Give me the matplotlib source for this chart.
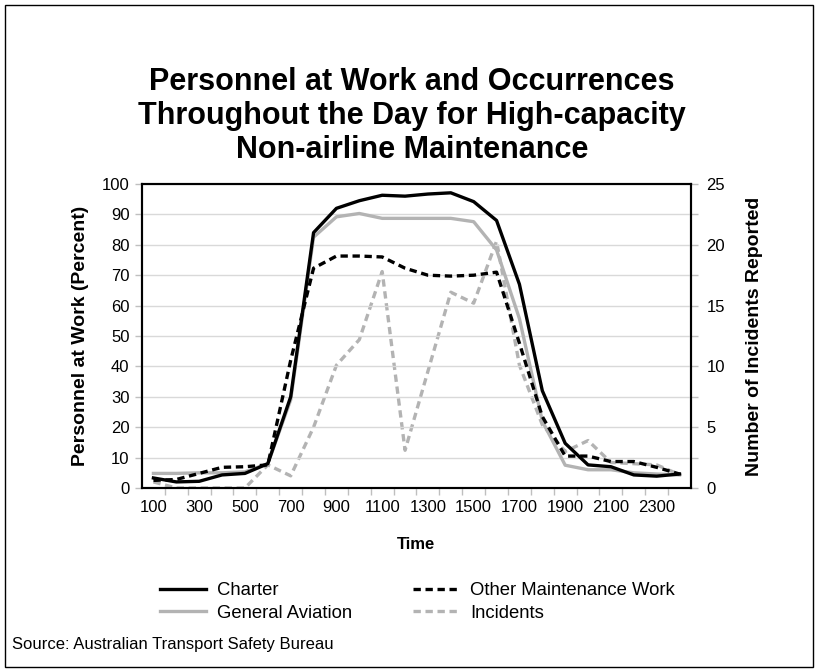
import matplotlib
matplotlib.use("Agg")
import matplotlib.pyplot as plt
from matplotlib.patches import Rectangle
from matplotlib.ticker import FixedLocator, NullFormatter

plt.rcParams['font.family'] = ['Liberation Sans', 'DejaVu Sans']

hours = [100, 200, 300, 400, 500, 600, 700, 800, 900, 1000, 1100, 1200,
         1300, 1400, 1500, 1600, 1700, 1800, 1900, 2000, 2100, 2200, 2300, 2400]
charter = [3.3, 2.0, 2.2, 4.3, 4.8, 8.0, 30.0, 84.0, 92.0, 94.5, 96.3, 96.0,
           96.7, 97.1, 94.2, 88.0, 67.0, 32.0, 14.7, 7.6, 7.0, 4.3, 3.9, 4.6]
general_aviation = [4.8, 4.8, 5.0, 5.0, 5.3, 8.0, 29.0, 82.5, 89.2, 90.3, 88.7, 88.7,
                    88.7, 88.7, 87.6, 78.3, 55.7, 22.0, 7.5, 6.0, 6.0, 5.0, 4.6, 4.3]
other_maint = [2.5, 2.8, 4.8, 6.8, 7.0, 7.6, 42.0, 72.3, 76.3, 76.3, 76.0, 72.3,
               70.0, 69.7, 70.0, 71.0, 47.6, 23.5, 10.5, 10.5, 8.7, 8.7, 6.8, 4.6]
incidents = [0.5, 0.0, 0.0, 0.0, 0.0, 1.9, 1.0, 5.0, 10.1, 12.2, 17.8, 3.1,
             9.6, 16.1, 15.2, 20.3, 10.1, 5.2, 3.0, 3.9, 2.1, 2.0, 1.9, 1.1]

title = "Personnel at Work and Occurrences\nThroughout the Day for High-capacity\nNon-airline Maintenance"

W, H = 819, 672
fig = plt.figure(figsize=(W / 100, H / 100), dpi=100)
fig.patch.set_facecolor('white')
fig.patches.append(Rectangle((5 / W, 1 - 667 / H), 808 / W, 662 / H,
                             transform=fig.transFigure, fill=False,
                             edgecolor='black', linewidth=1.0))

left, right, top, bottom = 142, 691, 184, 488
aw, ah = right - left, bottom - top
ax = fig.add_axes([left / W, 1 - bottom / H, aw / W, ah / H])
ax2 = ax.twinx()

pos = list(range(1, len(hours) + 1))
gray = '#b3b3b3'
lw = 2.4
dash = (2.2, 1.4)

l1, = ax.plot(pos, charter, color='black', lw=lw, label='Charter', zorder=4)
l2, = ax.plot(pos, general_aviation, color=gray, lw=lw, label='General Aviation', zorder=3)
l3, = ax.plot(pos, other_maint, color='black', lw=lw, ls=(0, dash), label='Other Maintenance Work', zorder=5)
l4, = ax2.plot(pos, incidents, color=gray, lw=lw, ls=(0, dash), label='Incidents', zorder=2)

ax.set_zorder(ax2.get_zorder() + 1)
ax.patch.set_visible(False)

ax.set_xlim(0.5, len(hours) + 0.5)
ax.set_ylim(0, 100)
ax2.set_ylim(0, 25)

ax.set_yticks(range(0, 101, 10))
ax.yaxis.grid(True, color='#d9d9d9', lw=1.0)
ax.set_axisbelow(True)
ax2.set_yticks(range(0, 26, 5))
ax2.yaxis.set_minor_locator(FixedLocator([2.5, 7.5, 12.5, 17.5, 22.5]))
ax2.tick_params(axis='y', which='minor', length=5, width=1, color='#bfbfbf')

# x ticks at category boundaries, labels every other category
ax.xaxis.set_major_locator(FixedLocator([p + 0.5 for p in pos[:-1]]))
ax.xaxis.set_major_formatter(NullFormatter())
ax.xaxis.set_minor_locator(FixedLocator(pos[::2]))
ax.set_xticklabels([str(h) for h in hours[::2]], minor=True)
ax.tick_params(axis='x', which='major', length=5, width=1, color='#bfbfbf')
ax.tick_params(axis='x', which='minor', length=0, pad=9, labelsize=12)

ax.tick_params(axis='y', length=5, width=1, color='#bfbfbf', labelsize=12, pad=4)
ax2.tick_params(axis='y', which='major', length=5, width=1, color='#bfbfbf', labelsize=12, pad=6)

for a in (ax, ax2):
    for s in a.spines.values():
        s.set_color('black')
        s.set_linewidth(1.5)

ax.set_xlabel('Time', fontsize=12, fontweight='bold')
ax.xaxis.set_label_coords(0.5, (bottom - 537) / ah)
ax.set_ylabel('Personnel at Work (Percent)', fontsize=14, fontweight='bold')
ax.yaxis.set_label_coords((89 - left) / aw, 0.5)
ax2.set_ylabel('Number of Incidents Reported', fontsize=14, fontweight='bold')
ax2.yaxis.set_label_coords((746 - left) / aw, 0.5)

fig.text(412 / W, 1 - 116 / H, title, ha='center', va='center', fontsize=22,
         fontweight='bold', linespacing=1.16)

leg = fig.legend(handles=[l1, l2, l3, l4], loc='center left', ncol=2,
                 bbox_to_anchor=(143 / W, 1 - 602 / H), frameon=False,
                 fontsize=13.3, handlelength=2.5, handletextpad=0.6,
                 columnspacing=3.3, labelspacing=0.32)

fig.text(12 / W, 1 - 645 / H, 'Source: Australian Transport Safety Bureau',
         ha='left', va='center', fontsize=12)

fig.savefig('out.png', dpi=100, facecolor='white')
